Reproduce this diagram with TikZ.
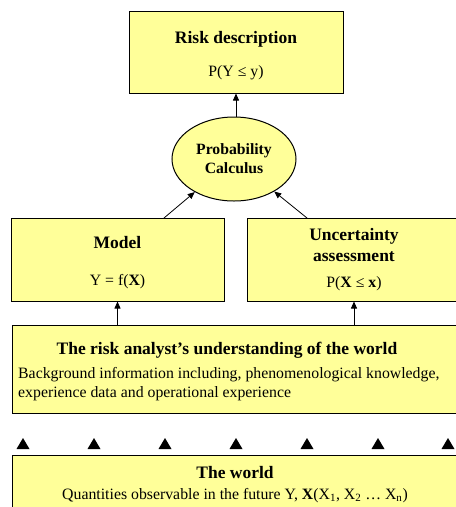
\documentclass[tikz,border=0pt]{standalone}
\usepackage{fontspec}
\setmainfont{Liberation Serif}
\usetikzlibrary{shapes.geometric,arrows.meta}
\definecolor{boxfill}{RGB}{255,255,153}
\tikzset{
  box/.style={draw=black, line width=1pt, fill=boxfill, rectangle, inner sep=0pt},
  ttl/.style={font=\fontsize{17.5}{21}\selectfont\bfseries, inner sep=0pt, anchor=base},
  sub/.style={font=\fontsize{15.8}{19}\selectfont, inner sep=0pt, anchor=base},
  arr/.style={draw=black, line width=0.8pt, -{Triangle[length=7pt,width=6pt]}},
  tri/.style={fill=black}
}
\begin{document}
\begin{tikzpicture}[x=1pt,y=-1pt]
\useasboundingbox (0,0) rectangle (456,507);
\clip (0,0) rectangle (456,507);
% boxes
\node[box, minimum width=214pt, minimum height=82pt] (rd) at (236,52) {};
\node[box, shape=ellipse, minimum width=124pt, minimum height=84pt, align=center,
      font=\fontsize{15.7}{19}\selectfont\bfseries] (ell) at (234,159) {Probability\\Calculus};
\node[box, minimum width=213pt, minimum height=83pt] (model) at (117.5,259.5) {};
\node[box, minimum width=214pt, minimum height=83pt] (unc) at (354,259.5) {};
\node[box, minimum width=458pt, minimum height=88pt] (und) at (241,369) {};
\node[box, minimum width=458pt, minimum height=65pt] (world) at (241,487.5) {};
% texts
\node[ttl] (rdt) at (236,43) {Risk description};
\node[sub] (rds) at (236,76) {P(Y ≤ y)};
\node[ttl] (mt) at (117.5,248) {Model};
\node[sub] (ms) at (117.5,285) {Y = f(\textbf{X})};
\node[ttl] (ut1) at (354,240) {Uncertainty};
\node[ttl] (ut2) at (354,261) {assessment};
\node[sub] (us) at (354,287) {P(\textbf{X} ≤ \textbf{x})};
\node[ttl] (undt) at (227,354) {The risk analyst’s understanding of the world};
\node[sub, anchor=base west] (unds1) at (18,378) {Background information including, phenomenological knowledge,};
\node[sub, anchor=base west] (unds2) at (18,397) {experience data and operational experience};
\node[ttl] (wt) at (235,478) {The world};
\node[sub] (ws) at (235,499) {Quantities observable in the future Y, \textbf{X}(X\textsubscript{1}, X\textsubscript{2} … X\textsubscript{n})};
% connectors
\coordinate (mstart) at (164,218);
\coordinate (ustart) at (307,218);
\draw[arr] (rd.south |- ell.north) -- (rd.south);
\draw[arr] (mstart) -- (ell);
\draw[arr] (ustart) -- (ell);
\draw[arr] (und.north -| model.south) -- (model.south);
\draw[arr] (und.north -| unc.south) -- (unc.south);
% triangles
\foreach \x in {23,94,165,236,307,378,448}
  \fill[tri] (\x-6.5,449) -- (\x+6.5,449) -- (\x,438) -- cycle;
\end{tikzpicture}
\end{document}
